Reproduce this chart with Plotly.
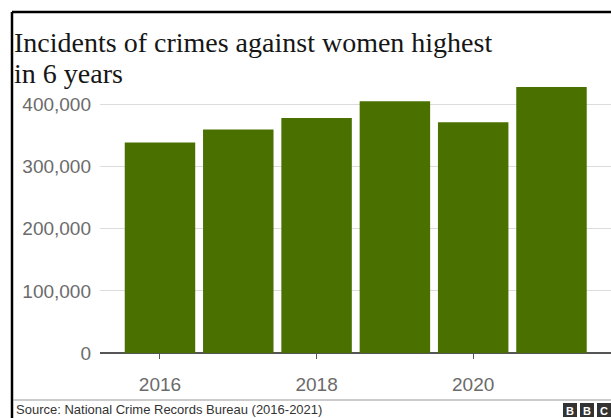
import plotly.graph_objects as go

years = [2016, 2017, 2018, 2019, 2020, 2021]
incidents = [338954, 359849, 378277, 405326, 371503, 428278]
y_ticks = [0, 100000, 200000, 300000, 400000]
y_tick_labels = ["0", "100,000", "200,000", "300,000", "400,000"]
x_ticks = [2016, 2018, 2020]
x_tick_labels = ["2016", "2018", "2020"]
title_lines = ["Incidents of crimes against women highest", "in 6 years"]
source_text = "Source: National Crime Records Bureau (2016-2021)"

W, H = 611, 418
ML, MR, MT, MB = 100, 0, 86, 65

def px(x):
    return (x - ML) / (W - ML - MR)

def py(y):
    return 1 - (y - MT) / (H - MT - MB)

fig = go.Figure(go.Bar(
    x=years, y=incidents, marker=dict(color="#4a7000", line=dict(width=0)),
    hoverinfo="skip"))

shapes = [
    # frame
    dict(type="line", xref="paper", yref="paper", x0=px(12), x1=px(W), y0=py(12), y1=py(12),
         line=dict(color="#000", width=2.5)),
    dict(type="line", xref="paper", yref="paper", x0=px(12), x1=px(12), y0=py(12), y1=py(H),
         line=dict(color="#000", width=2.5)),
    # separator
    dict(type="line", xref="paper", yref="paper", x0=px(13), x1=px(W), y0=py(400), y1=py(400),
         line=dict(color="#999", width=1)),
]
annotations = [
    dict(text=title_lines[0], xref="paper", yref="paper", x=px(12), y=py(25), xanchor="left",
         yanchor="top", showarrow=False, font=dict(family="Liberation Serif", size=28, color="#161616")),
    dict(text=title_lines[1], xref="paper", yref="paper", x=px(12), y=py(56), xanchor="left",
         yanchor="top", showarrow=False, font=dict(family="Liberation Serif", size=28, color="#161616")),
    dict(text=source_text, xref="paper", yref="paper", x=px(14), y=py(409.5), xanchor="left",
         yanchor="middle", showarrow=False, font=dict(family="Liberation Sans", size=13, color="#333")),
]
for i, letter in enumerate("BBC"):
    x0 = 563 + i * 17
    shapes.append(dict(type="rect", xref="paper", yref="paper", x0=px(x0), x1=px(x0 + 14),
                       y0=py(403), y1=py(417), fillcolor="#333", line=dict(width=0)))
    annotations.append(dict(text="<b>" + letter + "</b>", xref="paper", yref="paper",
                            x=px(x0 + 7), y=py(410.5), xanchor="center", yanchor="middle",
                            showarrow=False, font=dict(family="Liberation Sans", size=11, color="#fff")))

fig.update_layout(
    width=W, height=H, margin=dict(l=ML, r=MR, t=MT, b=MB),
    paper_bgcolor="#fff", plot_bgcolor="#fff", showlegend=False, bargap=0.1,
    shapes=shapes, annotations=annotations,
    xaxis=dict(range=[2015.234, 2021.76], tickvals=x_ticks, ticktext=x_tick_labels,
               ticks="outside", ticklen=5, tickcolor="#555", tickwidth=1,
               showgrid=False, zeroline=False, showline=False,
               tickfont=dict(family="Liberation Sans", size=19, color="#6b6b6b"),
               ticklabelstandoff=9),
    yaxis=dict(range=[0, 430000], tickvals=y_ticks, ticktext=y_tick_labels,
               showgrid=True, gridcolor="#dcdcdc", gridwidth=1, zeroline=True,
               zerolinecolor="#555", zerolinewidth=2, showline=False, ticks="",
               tickfont=dict(family="Liberation Sans", size=19, color="#6b6b6b"),
               ticklabelstandoff=8),
)

fig.write_html("out.html")
